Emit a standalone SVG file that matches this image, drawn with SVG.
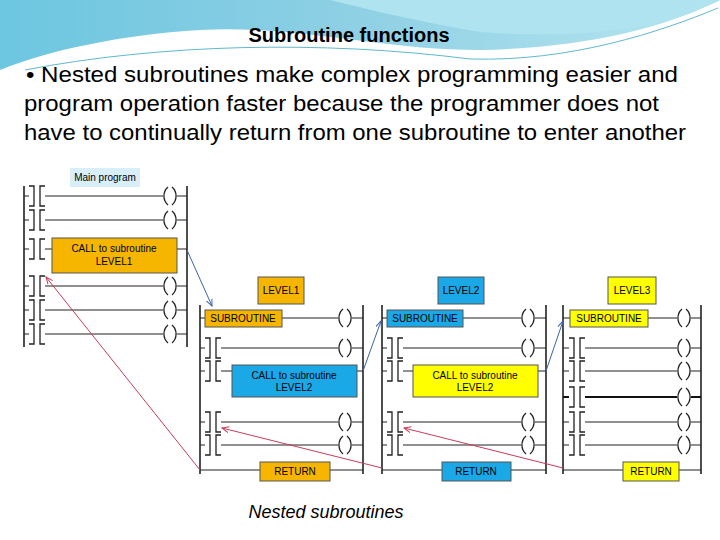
<svg xmlns="http://www.w3.org/2000/svg" xmlns:xlink="http://www.w3.org/1999/xlink" width="720" height="540" viewBox="0 0 720 540">
<style>
.t{font-family:"Liberation Sans",Arial,sans-serif;fill:#000}
.s{font-size:10px;text-anchor:middle}
.rail{stroke:#222;stroke-width:1.6;fill:none}
.rung{stroke:#222;stroke-width:1.2;fill:none}
.or{fill:#f6b600;stroke:#555;stroke-width:1}
.bl{fill:#1aa8e6;stroke:#555;stroke-width:1}
.ye{fill:#ffff00;stroke:#555;stroke-width:1}
.blue{stroke:#3a64a8;stroke-width:1;fill:none}
.red{stroke:#c83c5a;stroke-width:1;fill:none}
</style>
<defs>
<linearGradient id="hg" x1="0" y1="0" x2="1" y2="0">
<stop offset="0" stop-color="#6cc6e0"/><stop offset="0.5" stop-color="#8fd0e4"/><stop offset="1" stop-color="#b7e6f0"/>
</linearGradient>
<g id="ct"><rect x="-8" y="-11" width="16" height="22" fill="#fff"/><path d="M-8,-10H-3V10H-8M8,-10H3V10H8" stroke="#222" stroke-width="1.3" fill="none"/></g>
<g id="cl"><rect x="-7" y="-10" width="14" height="20" fill="#fff"/><path d="M-2,-9A12,12 0 0 0 -2,9M2,-9A12,12 0 0 1 2,9" stroke="#222" stroke-width="1.3" fill="none"/></g>
<marker id="ab" markerWidth="8" markerHeight="8" refX="7" refY="4" orient="auto" markerUnits="userSpaceOnUse"><path d="M0,1L7,4L0,7" fill="none" stroke="#3a64a8"/></marker>
<marker id="ar" markerWidth="8" markerHeight="8" refX="7" refY="4" orient="auto" markerUnits="userSpaceOnUse"><path d="M0,1L7,4L0,7" fill="none" stroke="#c83c5a"/></marker>
</defs>
<rect width="720" height="540" fill="#fff"/>
<path d="M0,0H720V0C660,30 580,48 480,50C380,50 300,25 200,30C120,35 50,50 0,70Z" fill="url(#hg)"/>
<path d="M330,0H720C690,20 600,42 480,32C420,22 370,10 330,0Z" fill="#aee3ef"/>
<path d="M30,68C150,42 300,35 470,55C570,58 660,30 718,3" stroke="#fff" stroke-width="3" fill="none"/>
<path d="M25,70C160,44 320,40 470,59C570,62 660,32 718,8" stroke="#5fb8cf" stroke-width="1" fill="none"/>
<text class="t" x="349" y="42" font-size="20" font-weight="bold" text-anchor="middle">Subroutine functions</text>
<text class="t" font-size="22" x="26" y="82" textLength="652" lengthAdjust="spacingAndGlyphs">• Nested subroutines make complex programming easier and</text>
<text class="t" font-size="22" x="24" y="111" textLength="635" lengthAdjust="spacingAndGlyphs">program operation faster because the programmer does not</text>
<text class="t" font-size="22" x="24" y="140" textLength="662" lengthAdjust="spacingAndGlyphs">have to continually return from one subroutine to enter another</text>

<g id="main">
<rect x="70" y="168" width="70" height="19" fill="#d8eef9"/>
<text class="t s" x="105" y="181">Main program</text>
<path class="rail" d="M24,186V347M187,186V347"/>
<path class="rung" d="M24,196H187M24,220H187M24,249H187M24,286H187M24,310H187M24,334H187"/>
<use href="#ct" x="37" y="196"/><use href="#ct" x="37" y="220"/><use href="#ct" x="37" y="249"/>
<use href="#ct" x="37" y="286"/><use href="#ct" x="37" y="310"/><use href="#ct" x="37" y="334"/>
<use href="#cl" x="170" y="196"/><use href="#cl" x="170" y="220"/>
<use href="#cl" x="170" y="286"/><use href="#cl" x="170" y="310"/><use href="#cl" x="170" y="334"/>
<rect class="or" x="52" y="238" width="125" height="35"/>
<text class="t s" x="114" y="252">CALL to subroutine</text><text class="t s" x="114" y="265">LEVEL1</text>
</g>

<g id="level1">
<rect class="or" x="258" y="277" width="46" height="27"/><text class="t s" x="281" y="294">LEVEL1</text>
<path class="rail" d="M200,305V474M363,305V474"/>
<path class="rung" d="M200,318H363M200,348H363M200,371H363M200,422H363M200,445H363M200,470H363"/>
<use href="#ct" x="213" y="348"/><use href="#ct" x="213" y="371"/><use href="#ct" x="213" y="422"/><use href="#ct" x="213" y="445"/>
<use href="#cl" x="345" y="318"/><use href="#cl" x="345" y="348"/><use href="#cl" x="345" y="422"/><use href="#cl" x="345" y="445"/>
<rect class="or" x="205" y="310" width="77" height="17"/><text class="t s" x="243" y="322">SUBROUTINE</text>
<rect class="bl" x="232" y="365" width="125" height="32"/>
<text class="t s" x="294" y="379">CALL to subroutine</text><text class="t s" x="294" y="391">LEVEL2</text>
<rect class="or" x="260" y="462" width="70" height="19"/><text class="t s" x="295" y="475">RETURN</text>
</g>

<g id="level2">
<rect class="bl" x="438" y="277" width="46" height="27"/><text class="t s" x="461" y="294">LEVEL2</text>
<path class="rail" d="M382,305V474M546,305V474"/>
<path class="rung" d="M382,318H546M382,348H546M382,371H546M382,422H546M382,445H546M382,470H546"/>
<use href="#ct" x="395" y="348"/><use href="#ct" x="395" y="371"/><use href="#ct" x="395" y="422"/><use href="#ct" x="395" y="445"/>
<use href="#cl" x="528" y="318"/><use href="#cl" x="528" y="348"/><use href="#cl" x="528" y="422"/><use href="#cl" x="528" y="445"/>
<rect class="bl" x="387" y="310" width="76" height="17"/><text class="t s" x="425" y="322">SUBROUTINE</text>
<rect class="ye" x="413" y="365" width="125" height="32"/>
<text class="t s" x="475" y="379">CALL to subroutine</text><text class="t s" x="475" y="391">LEVEL2</text>
<rect class="bl" x="442" y="462" width="69" height="19"/><text class="t s" x="476" y="475">RETURN</text>
</g>

<g id="level3">
<rect class="ye" x="608" y="277" width="48" height="27"/><text class="t s" x="632" y="294">LEVEL3</text>
<path class="rail" d="M563,305V474M701,305V474"/>
<path class="rung" d="M563,318H701M563,348H701M563,371H701M563,422H701M563,445H701M563,470H701"/>
<path d="M563,397H701" stroke="#111" stroke-width="2"/>
<use href="#ct" x="577" y="348"/><use href="#ct" x="577" y="371"/><use href="#ct" x="577" y="397"/><use href="#ct" x="577" y="422"/><use href="#ct" x="577" y="445"/>
<use href="#cl" x="684" y="318"/><use href="#cl" x="684" y="348"/><use href="#cl" x="684" y="371"/><use href="#cl" x="684" y="397"/><use href="#cl" x="684" y="422"/><use href="#cl" x="684" y="445"/>
<rect class="ye" x="570" y="310" width="78" height="17"/><text class="t s" x="609" y="322">SUBROUTINE</text>
<rect class="ye" x="623" y="462" width="56" height="19"/><text class="t s" x="651" y="475">RETURN</text>
</g>

<g id="connectors">
<path class="blue" d="M187,250L212,306" marker-end="url(#ab)"/>
<path class="blue" d="M363,371L381,321" marker-end="url(#ab)"/>
<path class="blue" d="M546,371L563,321" marker-end="url(#ab)"/>
<path class="red" d="M200,470L46,277" marker-end="url(#ar)"/>
<path class="red" d="M382,468L222,428" marker-end="url(#ar)"/>
<path class="red" d="M563,468L404,428" marker-end="url(#ar)"/>
</g>
<text x="326" y="518" font-family="Liberation Sans,Arial,sans-serif" font-size="18" font-style="italic" text-anchor="middle">Nested subroutines</text>
</svg>
